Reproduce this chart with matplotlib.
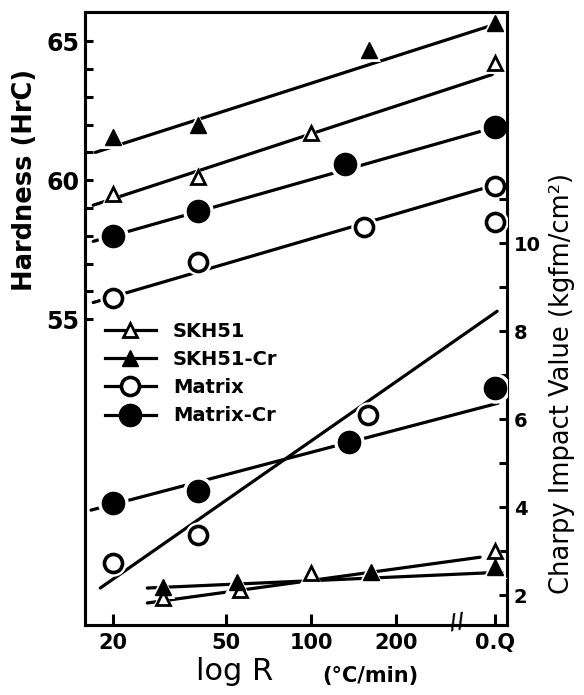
import numpy as np
import matplotlib
matplotlib.use("Agg")
import matplotlib.pyplot as plt
from matplotlib.lines import Line2D
from matplotlib.ticker import FixedLocator, NullFormatter

plt.rcParams['font.family'] = ['DejaVu Sans']

Q = 448  # axis position used for the "0.Q" (oil quench) column

x_ticks = [20, 50, 100, 200, Q]
x_ticklabels = ["20", "50", "100", "200", "0.Q"]
hard_ticks = [55, 60, 65]
hard_minor = [56, 57, 58, 59, 61, 62, 63, 64]
imp_ticks = [2, 4, 6, 8, 10]
imp_minor = [3, 5, 7, 9, 11]

series_names = ["SKH51", "SKH51-Cr", "Matrix", "Matrix-Cr"]

# Hardness (HrC) - left axis
skh51_hard_x = [20, 40, 100, Q]
skh51_hard_y = [59.5, 60.1, 61.7, 64.2]
skh51cr_hard_x = [20, 40, 160, Q]
skh51cr_hard_y = [61.55, 62.0, 64.7, 65.65]
matrix_hard_x = [20, 40, 154, Q]
matrix_hard_y = [55.75, 57.05, 58.3, 59.8]
matrixcr_hard_x = [20, 40, 132, Q]
matrixcr_hard_y = [58.0, 58.9, 60.6, 61.9]

# Hardness trend lines (end points)
skh51_hard_line_x = [17.0, 437]
skh51_hard_line_y = [59.1, 63.8]
skh51cr_hard_line_x = [17.3, 445]
skh51cr_hard_line_y = [61.0, 65.6]
matrix_hard_line_x = [17.0, 405]
matrix_hard_line_y = [55.6, 59.7]
matrixcr_hard_line_x = [17.0, 396]
matrixcr_hard_line_y = [57.8, 61.75]

# Charpy impact value (kgfm/cm2) - right axis
skh51_imp_x = [30, 56, 100, Q]
skh51_imp_y = [1.93, 2.11, 2.5, 3.0]
skh51cr_imp_x = [30, 55, 163, Q]
skh51cr_imp_y = [2.18, 2.3, 2.52, 2.64]
matrix_imp_x = [20, 40, 159, Q]
matrix_imp_y = [2.73, 3.36, 6.09, 10.48]
matrixcr_imp_x = [20, 40, 136, Q]
matrixcr_imp_y = [4.09, 4.36, 5.48, 6.7]

# Charpy trend lines (end points)
skh51_imp_line_x = [26.4, 396]
skh51_imp_line_y = [1.82, 2.86]
skh51cr_imp_line_x = [26.4, 474]
skh51cr_imp_line_y = [2.16, 2.52]
matrix_imp_line_x = [18.0, 455]
matrix_imp_line_y = [2.16, 8.45]
matrixcr_imp_line_x = [16.7, 458]
matrixcr_imp_line_y = [3.93, 6.36]

LW = 2.3
styles = {
    "SKH51": dict(marker='^', ms=10, mfc='white', mec='black', mew=2.0),
    "SKH51-Cr": dict(marker='^', ms=11, mfc='black', mec='black', mew=1.0),
    "Matrix": dict(marker='o', ms=13, mfc='white', mec='black', mew=2.6),
    "Matrix-Cr": dict(marker='o', ms=16, mfc='black', mec='black', mew=1.0),
}

fig = plt.figure(figsize=(5.84, 6.95), dpi=100)
ax = fig.add_axes([85/584, 1-625/695, (507-85)/584, (625-12)/695])
ax2 = ax.twinx()

ax.set_xscale('log')
ax.set_xlim(15.9, 493)
ax.set_ylim(44.0, 66.05)
ax2.set_ylim(1.32, 15.25)


def draw(a, lx, ly, px, py, name):
    st = styles[name]
    a.plot(lx, ly, color='black', lw=LW, solid_capstyle='round', zorder=2)
    a.plot(px, py, linestyle='none', marker=st['marker'], ms=st['ms'] + 6,
           mfc='white', mec='white', mew=0, zorder=3)
    a.plot(px, py, linestyle='none', zorder=4, **st)


draw(ax, skh51_hard_line_x, skh51_hard_line_y, skh51_hard_x, skh51_hard_y, "SKH51")
draw(ax, skh51cr_hard_line_x, skh51cr_hard_line_y, skh51cr_hard_x, skh51cr_hard_y, "SKH51-Cr")
draw(ax, matrix_hard_line_x, matrix_hard_line_y, matrix_hard_x, matrix_hard_y, "Matrix")
draw(ax, matrixcr_hard_line_x, matrixcr_hard_line_y, matrixcr_hard_x, matrixcr_hard_y, "Matrix-Cr")

draw(ax2, matrix_imp_line_x, matrix_imp_line_y, matrix_imp_x, matrix_imp_y, "Matrix")
draw(ax2, matrixcr_imp_line_x, matrixcr_imp_line_y, matrixcr_imp_x, matrixcr_imp_y, "Matrix-Cr")
draw(ax2, skh51_imp_line_x, skh51_imp_line_y, skh51_imp_x, skh51_imp_y, "SKH51")
draw(ax2, skh51cr_imp_line_x, skh51cr_imp_line_y, skh51cr_imp_x, skh51cr_imp_y, "SKH51-Cr")

# spines
for a in (ax, ax2):
    for s in a.spines.values():
        s.set_linewidth(2.2)

# x ticks
ax.xaxis.set_major_locator(FixedLocator(x_ticks))
ax.xaxis.set_minor_locator(FixedLocator([]))
ax.set_xticklabels(x_ticklabels, fontsize=15, fontweight='bold')
ax.tick_params(axis='x', direction='in', length=8, width=2.2, pad=6)

# left ticks
ax.yaxis.set_major_locator(FixedLocator(hard_ticks))
ax.yaxis.set_minor_locator(FixedLocator(hard_minor))
ax.yaxis.set_minor_formatter(NullFormatter())
ax.set_yticklabels([str(v) for v in hard_ticks], fontsize=17, fontweight='bold')
ax.tick_params(axis='y', which='both', direction='in', length=6, width=2.2, pad=4)

# right ticks
ax2.yaxis.set_major_locator(FixedLocator(imp_ticks))
ax2.yaxis.set_minor_locator(FixedLocator(imp_minor))
ax2.yaxis.set_minor_formatter(NullFormatter())
ax2.set_yticklabels([str(v) for v in imp_ticks], fontsize=14, fontweight='bold')
ax2.tick_params(axis='y', which='both', direction='in', length=6, width=2.2, pad=5)

# break mark on x axis
ax.text(330, 0.005, "//", transform=ax.get_xaxis_transform(), fontsize=15,
        fontweight='bold', ha='center', va='center', rotation=10, zorder=6)

# axis labels
fig.text(25/584, 1-180/695, "Hardness (HrC)", rotation=90, fontsize=18.5,
         fontweight='bold', ha='center', va='center')
fig.text(562/584, 1-383/695, "Charpy Impact Value (kgfm/cm²)", rotation=90,
         fontsize=18.5, ha='center', va='center')
fig.text(235/584, 1-672/695, "log R", fontsize=22, ha='center', va='center')
fig.text(370/584, 1-676/695, "(°C/min)", fontsize=15, fontweight='bold',
         ha='center', va='center')

# legend
handles = []
for name in series_names:
    st = styles[name]
    handles.append(Line2D([], [], color='black', lw=LW, **st))
leg = ax.legend(handles, series_names, loc='upper left',
                bbox_to_anchor=(105/584, 1-322/695), bbox_transform=fig.transFigure,
                frameon=False, handlelength=2.6, handletextpad=0.9,
                borderpad=0, borderaxespad=0, labelspacing=0.47,
                prop=dict(size=14, weight='bold'))

fig.savefig("out.png", dpi=100)
